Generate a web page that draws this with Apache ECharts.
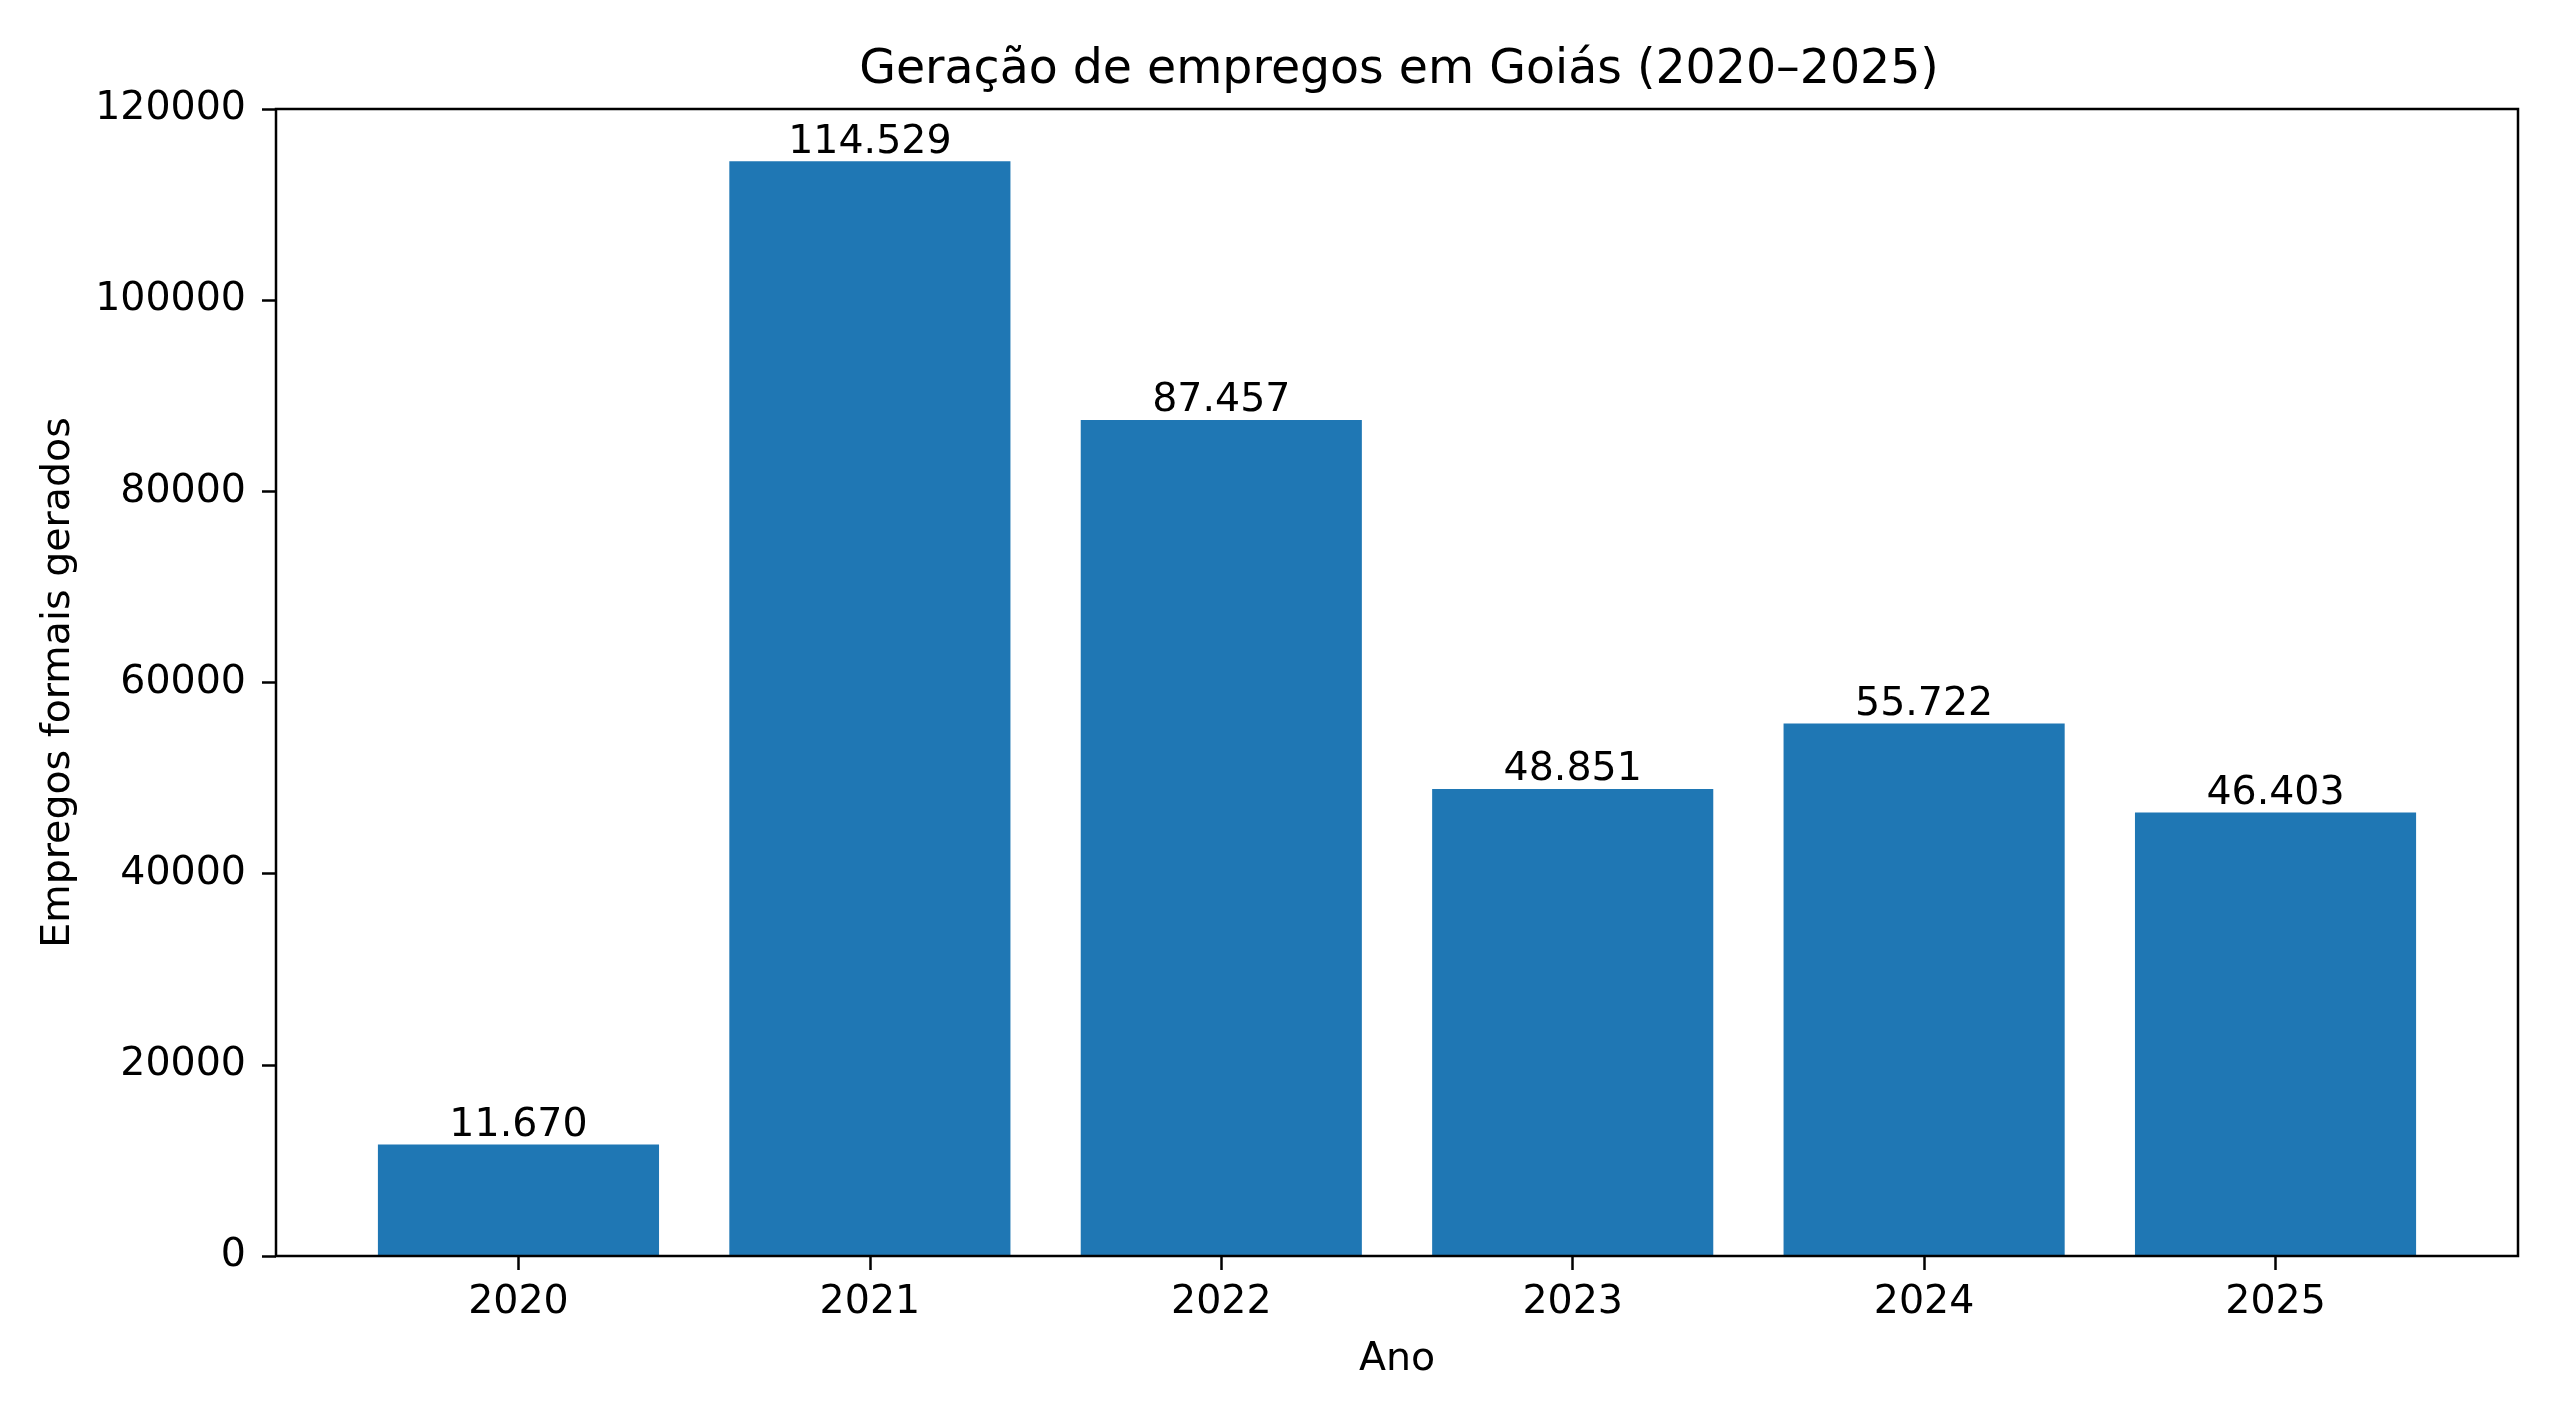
<!DOCTYPE html>
<html>
<head>
<meta charset="utf-8">
<script src="https://cdn.jsdelivr.net/npm/echarts@6/dist/echarts.min.js"></script>
<style>
html,body{margin:0;padding:0;background:#fff;}
#chart{width:2560px;height:1422px;}
</style>
</head>
<body>
<div id="chart"></div>
<script>
const categories = ['2020', '2021', '2022', '2023', '2024', '2025'];
const empregos = [11670, 114529, 87457, 48851, 55722, 46403];
const yTicks = [0, 20000, 40000, 60000, 80000, 100000, 120000];

const FONT = 'DejaVu Sans';
const FS = 39.5;
const fmtBR = v => String(v).replace(/\B(?=(\d{3})+(?!\d))/g, '.');

// plot frame in pixels
const L = 276, R = 2518, T = 109, B = 1256;
const W = 2560, H = 1422;
// matplotlib-like x limits: -0.69 .. 5.69  (bars width 0.8, margin 5%)
const span = 6.38, unit = (R - L) / span;
const innerL = L + (0.69 - 0.5) * unit;
const innerR = innerL + 6 * unit;

const chart = echarts.init(document.getElementById('chart'));
chart.setOption({
  animation: false,
  backgroundColor: '#fff',
  title: {
    text: 'Geração de empregos em Goiás (2020–2025)',
    left: (L + R) / 2 - 3,
    textAlign: 'center',
    top: 42,
    textStyle: {fontFamily: FONT, fontSize: 47.4, fontWeight: 'normal', color: '#000'}
  },
  grid: [
    {left: L, right: W - R, top: T, bottom: H - B, show: true, borderColor: '#000', borderWidth: 2.5, backgroundColor: 'transparent', z: 10},
    {left: innerL, right: W - innerR, top: T, bottom: H - B}
  ],
  xAxis: [
    {gridIndex: 0, type: 'value', show: false, min: 0, max: 1},
    {
      gridIndex: 1, type: 'category', data: categories,
      name: 'Ano', nameLocation: 'middle', nameGap: 84,
      nameTextStyle: {fontFamily: FONT, fontSize: FS, color: '#000'},
      axisLine: {show: false},
      axisTick: {show: true, alignWithLabel: true, length: 14, lineStyle: {color: '#000', width: 2.5}},
      axisLabel: {fontFamily: FONT, fontSize: FS, color: '#000', margin: 27}
    }
  ],
  yAxis: [
    {gridIndex: 0, type: 'value', show: false, min: 0, max: 1},
    {
      gridIndex: 1, type: 'value', min: 0, max: 120000, interval: 20000,
      offset: innerL - L,
      name: 'Empregos formais gerados', nameLocation: 'middle', nameGap: 197,
      nameTextStyle: {fontFamily: FONT, fontSize: FS, color: '#000'},
      axisLine: {show: false},
      splitLine: {show: false},
      axisTick: {show: true, length: 14, lineStyle: {color: '#000', width: 2.5}},
      axisLabel: {fontFamily: FONT, fontSize: FS, color: '#000', margin: 30,
        padding: [6, 0, 0, 0],
        formatter: v => yTicks.includes(v) ? String(v) : ''}
    }
  ],
  series: [{
    type: 'bar',
    xAxisIndex: 1, yAxisIndex: 1,
    data: empregos,
    barWidth: '80%',
    itemStyle: {color: '#1f77b4'},
    label: {
      show: true, position: 'top', distance: -1,
      fontFamily: FONT, fontSize: FS, color: '#000',
      formatter: p => fmtBR(p.value)
    }
  }]
});
</script>
</body>
</html>
